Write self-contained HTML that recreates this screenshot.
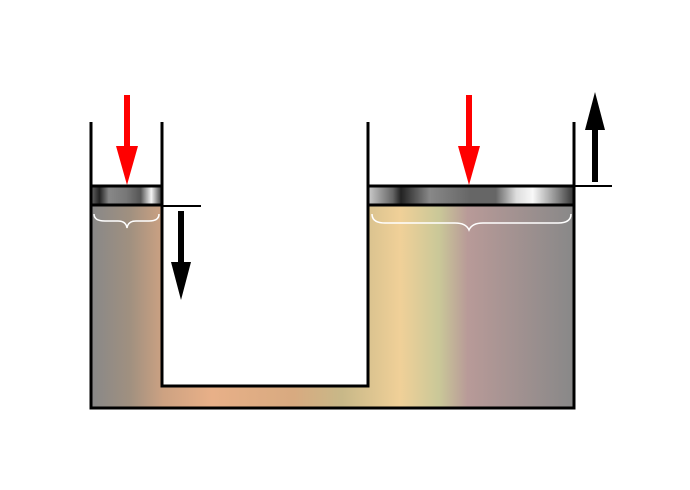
<!DOCTYPE html>
<html><head><meta charset="utf-8"><style>html,body{margin:0;padding:0;background:#fff}svg{display:block}</style></head>
<body>
<svg width="690" height="490" viewBox="0 0 690 490" xmlns="http://www.w3.org/2000/svg">
<defs>
<linearGradient id="fl" gradientUnits="userSpaceOnUse" x1="91" y1="0" x2="574" y2="0">
<stop offset="0" stop-color="#888888"/>
<stop offset="0.08" stop-color="#a09080"/>
<stop offset="0.15" stop-color="#cda282"/>
<stop offset="0.25" stop-color="#e8b088"/>
<stop offset="0.42" stop-color="#d8aa80"/>
<stop offset="0.52" stop-color="#c8b888"/>
<stop offset="0.64" stop-color="#f0d098"/>
<stop offset="0.72" stop-color="#cac898"/>
<stop offset="0.78" stop-color="#b89a98"/>
<stop offset="1" stop-color="#888888"/>
</linearGradient>
<linearGradient id="p1" x1="0" y1="0" x2="1" y2="0">
<stop offset="0" stop-color="#666"/>
<stop offset="0.12" stop-color="#222"/>
<stop offset="0.25" stop-color="#888"/>
<stop offset="0.5" stop-color="#777"/>
<stop offset="0.7" stop-color="#555"/>
<stop offset="0.85" stop-color="#f4f4f4"/>
<stop offset="1" stop-color="#333"/>
</linearGradient>
<linearGradient id="p2" x1="0" y1="0" x2="1" y2="0">
<stop offset="0" stop-color="#ccc"/>
<stop offset="0.12" stop-color="#666"/>
<stop offset="0.16" stop-color="#222"/>
<stop offset="0.3" stop-color="#888"/>
<stop offset="0.5" stop-color="#666"/>
<stop offset="0.62" stop-color="#666"/>
<stop offset="0.72" stop-color="#ddd"/>
<stop offset="0.8" stop-color="#f8f8f8"/>
<stop offset="0.92" stop-color="#888"/>
<stop offset="1" stop-color="#333"/>
</linearGradient>
</defs>
<path d="M91 205 H162 V386 H368 V205 H574 V408 H91 Z" fill="url(#fl)"/>
<rect x="91" y="186" width="71" height="19" fill="url(#p1)"/>
<rect x="368" y="186" width="206" height="19" fill="url(#p2)"/>
<g stroke="#000" stroke-width="3" fill="none">
<path d="M91 122 V408 H574 V122"/>
<path d="M162 122 V386 H368 V122"/>
<path d="M91 186 H162 M91 205 H162"/>
<path d="M368 186 H574 M368 205 H574"/>
</g>
<g stroke="#000" stroke-width="2">
<path d="M162 206 H201"/>
<path d="M574 186 H612"/>
</g>
<g stroke="#fff" stroke-width="1.5" fill="none">
<path d="M94 214 Q94 221 105 221 H118 Q126 221 127 228 Q128 221 136 221 H149 Q159 221 159 214"/>
<path d="M372 214 Q372 223 385 223 H455 Q466 223 469 230 Q472 223 483 223 H558 Q571 223 571 214"/>
</g>
<g fill="#ff0000">
<rect x="124" y="95" width="6" height="52"/>
<polygon points="116,146 138,146 127,185"/>
<rect x="466" y="95" width="6" height="52"/>
<polygon points="458,146 480,146 469,185"/>
</g>
<g fill="#000">
<rect x="178" y="211" width="6" height="53"/>
<polygon points="171,262 191,262 181,300"/>
<rect x="592" y="128" width="6" height="54"/>
<polygon points="585,130 605,130 595,92"/>
</g>
</svg>
</body></html>
